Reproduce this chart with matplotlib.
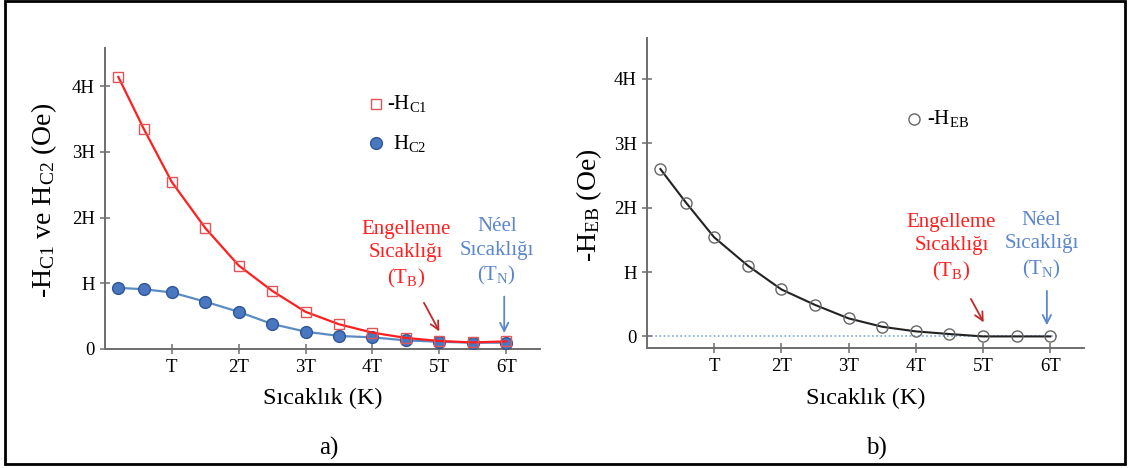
import matplotlib
matplotlib.use("Agg")
import matplotlib.pyplot as plt
from matplotlib.patches import Rectangle

plt.rcParams['font.family'] = ['Liberation Serif', 'DejaVu Serif']
plt.rcParams['mathtext.fontset'] = 'custom'
plt.rcParams['mathtext.rm'] = 'Liberation Serif'
plt.rcParams['mathtext.it'] = 'Liberation Serif'

# veriler (T birimi ve H birimi cinsinden okunmuş)
sicaklik = [0.2, 0.58, 1.0, 1.5, 2.0, 2.5, 3.0, 3.5, 4.0, 4.5, 5.0, 5.5, 6.0]
hc1 = [4.14, 3.35, 2.54, 1.84, 1.27, 0.885, 0.565, 0.376, 0.249, 0.168, 0.122, 0.10, 0.116]
hc2 = [0.93, 0.91, 0.86, 0.72, 0.565, 0.38, 0.264, 0.198, 0.177, 0.131, 0.11, 0.096, 0.096]
heb = [2.60, 2.08, 1.54, 1.10, 0.73, 0.49, 0.28, 0.15, 0.078, 0.037, 0.0, 0.0, 0.0]

x_ticks = [1, 2, 3, 4, 5, 6]
x_etiket = ['T', '2T', '3T', '4T', '5T', '6T']
y_ticks = [0, 1, 2, 3, 4]
y_etiket = ['0', 'H', '2H', '3H', '4H']

kirmizi = '#ff1f1f'
koyu_kirmizi = '#c0282a'
mavi = '#4a78c0'
mavi_yazi = '#5b86cc'

fig = plt.figure(figsize=(11.29, 4.68), dpi=100)
ax1 = fig.add_axes([0.093, 0.2543, 0.385, 0.643])
ax2 = fig.add_axes([0.573, 0.2564, 0.387, 0.663])


def eksen_ayarla(ax):
    for s in ['top', 'right']:
        ax.spines[s].set_visible(False)
    for s in ['left', 'bottom']:
        ax.spines[s].set_color('#6e6e6e')
        ax.spines[s].set_linewidth(1.4)
    ax.set_xlim(0, 6.5)
    ax.set_xticks(x_ticks)
    ax.set_xticklabels(x_etiket)
    ax.set_yticks(y_ticks)
    ax.set_yticklabels(y_etiket)
    ax.tick_params(direction='inout', length=7, width=1.1, color='#6e6e6e',
                   labelsize=13.5, pad=4)


ok = dict(arrowstyle='->,head_length=0.6,head_width=0.3', lw=1.3)

# a) paneli
eksen_ayarla(ax1)
ax1.set_ylim(0, 4.58)
ax1.plot(sicaklik, hc2, color='#5a8cc4', lw=1.6, zorder=2)
ax1.plot(sicaklik, hc2, 'o', ms=8.5, mfc=mavi, mec='#2f5597', mew=1.0, zorder=3)
ax1.plot(sicaklik, hc1, color=kirmizi, lw=1.6, zorder=4)
ax1.plot(sicaklik, hc1, 's', ms=7.5, mfc='none', mec='#e05555', mew=1.0, zorder=5)

ax1.plot([4.05], [3.73], 's', ms=7.5, mfc='none', mec='#e05555', mew=1.0, clip_on=False)
ax1.text(4.22, 3.73, '-H$_{\\mathrm{C1}}$', fontsize=15, va='center')
ax1.plot([4.05], [3.13], 'o', ms=8.5, mfc=mavi, mec='#2f5597', mew=1.0, clip_on=False)
ax1.text(4.3, 3.13, 'H$_{\\mathrm{C2}}$', fontsize=15, va='center')

ax1.text(4.5, 1.43, 'Engelleme\nSıcaklığı\n(T$_{\\mathrm{B}}$)', color=kirmizi,
         fontsize=15, ha='center', va='center', linespacing=1.3)
ax1.annotate('', xy=(5.02, 0.23), xytext=(4.75, 0.74),
             arrowprops=dict(color=koyu_kirmizi, **ok))
ax1.text(5.86, 1.47, 'Néel\nSıcaklığı\n(T$_{\\mathrm{N}}$)', color=mavi_yazi,
         fontsize=15, ha='center', va='center', linespacing=1.3)
ax1.annotate('', xy=(5.97, 0.2), xytext=(5.97, 0.84),
             arrowprops=dict(color=mavi_yazi, **ok))

ax1.set_ylabel('-H$_{\\mathrm{C1}}$ ve H$_{\\mathrm{C2}}$ (Oe)', fontsize=20)
ax1.yaxis.set_label_coords(-0.106, 0.495)
ax1.set_xlabel('Sıcaklık (K)', fontsize=17.5)
ax1.xaxis.set_label_coords(0.5, -0.13)

# b) paneli
eksen_ayarla(ax2)
ax2.set_ylim(-0.18, 4.64)
ax2.axhline(0, xmin=0, xmax=6.12 / 6.5, color='#7fa7d8', lw=1.2, ls=(0, (1, 1.5)), zorder=1)
ax2.plot(sicaklik, heb, color='#222222', lw=1.5, zorder=2)
ax2.plot(sicaklik, heb, 'o', ms=8, mfc='none', mec='#666666', mew=1.0, zorder=3)
ax2.plot([3.98], [3.38], 'o', ms=8, mfc='none', mec='#666666', mew=1.0)
ax2.text(4.17, 3.38, '-H$_{\\mathrm{EB}}$', fontsize=15, va='center')

ax2.text(4.53, 1.37, 'Engelleme\nSıcaklığı\n(T$_{\\mathrm{B}}$)', color=kirmizi,
         fontsize=15, ha='center', va='center', linespacing=1.3)
ax2.annotate('', xy=(5.03, 0.18), xytext=(4.8, 0.62),
             arrowprops=dict(color=koyu_kirmizi, **ok))
ax2.text(5.87, 1.41, 'Néel\nSıcaklığı\n(T$_{\\mathrm{N}}$)', color=mavi_yazi,
         fontsize=15, ha='center', va='center', linespacing=1.3)
ax2.annotate('', xy=(5.95, 0.13), xytext=(5.95, 0.75),
             arrowprops=dict(color=mavi_yazi, **ok))

ax2.set_ylabel('-H$_{\\mathrm{EB}}$ (Oe)', fontsize=20)
ax2.yaxis.set_label_coords(-0.098, 0.46)
ax2.set_xlabel('Sıcaklık (K)', fontsize=17.5)
ax2.xaxis.set_label_coords(0.5, -0.129)

fig.text(0.291, 1 - 448 / 468, 'a)', fontsize=18, ha='center', va='center')
fig.text(0.776, 1 - 448 / 468, 'b)', fontsize=18, ha='center', va='center')

# çerçeve
fig.patches.append(Rectangle((0.0044, 0.0085), 0.992, 0.989, transform=fig.transFigure,
                             fill=False, edgecolor='black', lw=2))

fig.savefig('out.png', dpi=100)
